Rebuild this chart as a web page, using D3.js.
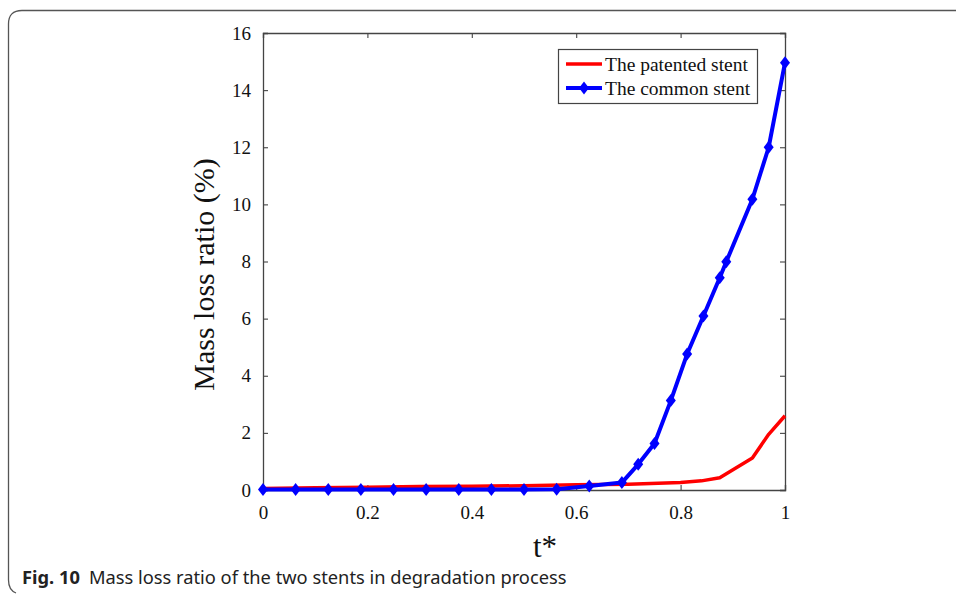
<!DOCTYPE html>
<html>
<head>
<meta charset="utf-8">
<script src="https://cdn.jsdelivr.net/npm/d3@7"></script>
<style>
  body { margin: 0; background: #fff; }
  svg { display: block; }
</style>
</head>
<body>
<svg id="chart" width="956" height="596"></svg>
<script>
// data
var tCommon = [0, 0.0625, 0.125, 0.1875, 0.25, 0.3125, 0.375, 0.4375, 0.5, 0.5625,
    0.625, 0.6875, 0.71875, 0.75, 0.78125, 0.8125, 0.84375, 0.875, 0.8875, 0.9375, 0.96875, 1];
var massCommon = [0.02, 0.02, 0.02, 0.02, 0.02, 0.02, 0.02, 0.02, 0.02, 0.03,
    0.14, 0.26, 0.9, 1.63, 3.13, 4.76, 6.09, 7.43, 7.99, 10.18, 12.0, 14.96];
var tPatented = [0, 0.1, 0.2, 0.3, 0.4, 0.5, 0.6, 0.7, 0.8, 0.84, 0.875, 0.9375, 0.96875, 1];
var massPatented = [0.05, 0.08, 0.1, 0.12, 0.13, 0.15, 0.18, 0.2, 0.26, 0.32, 0.43, 1.12, 1.95, 2.6];
var xTicks = [0, 0.2, 0.4, 0.6, 0.8, 1];
var yTicks = [0, 2, 4, 6, 8, 10, 12, 14, 16];
var seriesNames = ['The patented stent', 'The common stent'];
var seriesColors = ['#ff0000', '#0000ff'];
var caption = 'Mass loss ratio of the two stents in degradation process';

var svg = d3.select('#chart');
var serif = '"Liberation Serif", "Times New Roman", serif';

// outer rounded frame of the figure panel
svg.append('path')
    .attr('d', 'M956,10.5 L22,10.5 Q8.5,10.5 8.5,24 L8.5,580 Q8.5,590 16,593')
    .attr('fill', 'none')
    .attr('stroke', '#555')
    .attr('stroke-width', 1.3);

var plotL = 263, plotR = 785, plotT = 33, plotB = 490;
var x = d3.scaleLinear().domain([0, 1]).range([plotL, plotR]);
var y = d3.scaleLinear().domain([0, 16]).range([plotB, plotT]);

var g = svg.append('g');

// axes (MATLAB style, ticks inward, full box)
var axBottom = g.append('g').attr('transform', 'translate(0,' + plotB + ')')
    .call(d3.axisBottom(x).tickValues(xTicks).tickSize(-5).tickPadding(16)
        .tickFormat(function (d) { return d === 0 || d === 1 ? d : d3.format('.1f')(d); }));
var axLeft = g.append('g').attr('transform', 'translate(' + plotL + ',0)')
    .call(d3.axisLeft(y).tickValues(yTicks).tickSize(-5).tickPadding(12));
var axTop = g.append('g').attr('transform', 'translate(0,' + plotT + ')')
    .call(d3.axisTop(x).tickValues(xTicks).tickSize(-5).tickFormat(''));
var axRight = g.append('g').attr('transform', 'translate(' + plotR + ',0)')
    .call(d3.axisRight(y).tickValues(yTicks).tickSize(-5).tickFormat(''));

[axBottom, axLeft, axTop, axRight].forEach(function (a) {
    a.select('.domain').attr('stroke', '#444').attr('stroke-width', 1.3);
    a.selectAll('.tick line').attr('stroke', '#444').attr('stroke-width', 1.1);
    a.selectAll('.tick text').attr('fill', '#111')
        .style('font-family', serif).style('font-size', '19px');
});

// lines
var line = d3.line()
    .x(function (d) { return x(d[0]); })
    .y(function (d) { return y(d[1]); });

var patented = d3.zip(tPatented, massPatented);
var common = d3.zip(tCommon, massCommon);

g.append('path').datum(patented)
    .attr('d', line)
    .attr('fill', 'none')
    .attr('stroke', seriesColors[0])
    .attr('stroke-width', 3.5)
    .attr('stroke-linejoin', 'round');

g.append('path').datum(common)
    .attr('d', line)
    .attr('fill', 'none')
    .attr('stroke', seriesColors[1])
    .attr('stroke-width', 4)
    .attr('stroke-linejoin', 'round');

var diamond = 'M0,-6.5 L5,0 L0,6.5 L-5,0 Z';
g.selectAll('.mk').data(common).enter().append('path')
    .attr('class', 'mk')
    .attr('d', diamond)
    .attr('transform', function (d) { return 'translate(' + x(d[0]) + ',' + y(d[1]) + ')'; })
    .attr('fill', seriesColors[1]);

// legend
var lg = g.append('g').attr('transform', 'translate(558,49)');
lg.append('rect')
    .attr('x', 0.5).attr('y', 0.5).attr('width', 199).attr('height', 54)
    .attr('fill', '#fff').attr('stroke', '#444').attr('stroke-width', 1.2);
seriesNames.forEach(function (name, i) {
    var yy = 15 + i * 24;
    lg.append('line')
        .attr('x1', 8).attr('x2', 44).attr('y1', yy).attr('y2', yy)
        .attr('stroke', seriesColors[i]).attr('stroke-width', i ? 4 : 3.5);
    if (i === 1) {
        lg.append('path').attr('d', diamond)
            .attr('transform', 'translate(26,' + yy + ')')
            .attr('fill', seriesColors[i]);
    }
    lg.append('text')
        .attr('x', 47).attr('y', yy + 6.5)
        .style('font-family', serif).style('font-size', '19.5px')
        .attr('fill', '#111')
        .text(name);
});

// axis titles
svg.append('text')
    .attr('transform', 'translate(214,' + ((plotT + plotB) / 2 + 13) + ') rotate(-90)')
    .attr('text-anchor', 'middle')
    .style('font-family', serif).style('font-size', '30px')
    .attr('fill', '#111')
    .text('Mass loss ratio (%)');

svg.append('text')
    .attr('x', (plotL + plotR) / 2 + 21).attr('y', 557)
    .attr('text-anchor', 'middle')
    .style('font-family', serif).style('font-size', '31px')
    .attr('fill', '#111')
    .text('t*');

// figure caption
var cap = svg.append('text')
    .attr('x', 22).attr('y', 584)
    .style('font-family', '"Noto Sans", "Open Sans", sans-serif').style('font-size', '18.3px')
    .attr('fill', '#222');
cap.append('tspan').style('font-weight', 'bold').text('Fig. 10');
cap.append('tspan').attr('dx', 9).text(caption);
</script>
</body>
</html>
